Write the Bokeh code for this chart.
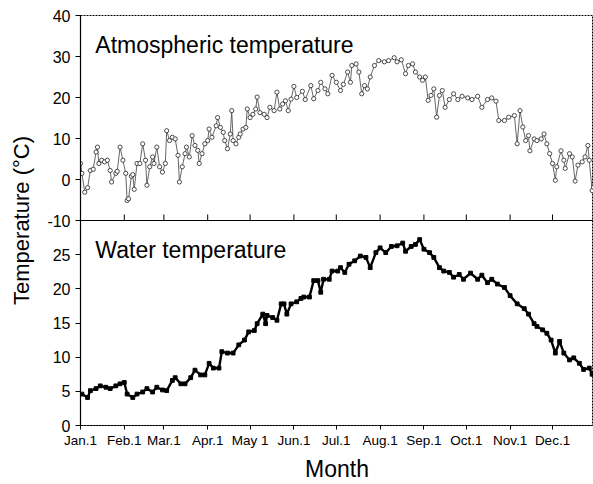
import math
from bokeh.plotting import figure
from bokeh.models import FixedTicker, Label, Range1d, LinearAxis, Span
from bokeh.embed import file_html
from bokeh.resources import INLINE
from bokeh.core.properties import value

# ---------------- data ----------------
month_days = [0, 31, 59, 90, 120, 151, 181, 212, 243, 273, 304, 334]
month_labels = ["Jan.1", "Feb.1", "Mar.1", "Apr.1", "May 1", "Jun.1",
                "Jul.1", "Aug.1", "Sep.1", "Oct.1", "Nov.1", "Dec.1"]

atm_ticks = [-10, 0, 10, 20, 30, 40]
water_ticks = [0, 5, 10, 15, 20, 25]

atm_day = [0, 1, 3, 5, 7, 9, 11, 12, 13, 15, 17, 19, 21, 22, 25, 26, 28, 30, 32, 33,
           34, 36, 37, 38, 40, 42, 44, 46, 47, 49, 51, 52, 54, 56, 58, 60, 61, 63, 65, 67,
           69, 70, 72, 74, 75, 77, 79, 81, 83, 84, 86, 88, 90, 91, 93, 96, 97, 99, 101, 102,
           104, 106, 107, 108, 110, 112, 113, 115, 117, 118, 120, 122, 124, 125, 127, 130, 132, 134, 137, 139,
           141, 143, 145, 147, 149, 151, 153, 157, 159, 163, 165, 168, 170, 173, 175, 178, 181, 184, 186, 189,
           191, 192, 195, 197, 199, 201, 203, 205, 208, 211, 215, 218, 222, 224, 227, 230, 232, 235, 237, 240,
           242, 244, 246, 248, 250, 252, 254, 256, 258, 261, 264, 267, 270, 274, 277, 281, 284, 288, 291, 294,
           296, 300, 303, 307, 309, 311, 313, 315, 317, 318, 321, 323, 326, 328, 330, 332, 334, 336, 337, 340,
           342, 343, 346, 348, 350, 352, 355, 357, 359, 360, 362, 363]
atm_temp = [3.9, 1.5, -3.1, -2.0, 2.2, 2.5, 6.7, 7.9, 3.9, 4.7, 4.3, 4.7, 2.2, -0.6, 1.5, 2.0, 7.9, 4.7, 1.5, -5.1,
            -4.7, 0.8, 1.2, -2.4, 3.9, 3.9, 8.7, 4.7, -1.4, 3.1, 5.5, 3.9, 7.9, 3.1, 1.8, 3.9, 11.9, 9.5, 10.3, 9.9,
            5.9, -0.6, 3.1, 6.3, 7.9, 5.5, 10.7, 8.3, 7.1, 3.9, 6.3, 8.7, 9.5, 12.3, 10.3, 13.1, 15.1, 12.7, 11.5, 9.5,
            7.5, 11.1, 16.8, 9.5, 8.7, 10.3, 11.1, 12.3, 12.7, 17.2, 15.1, 15.9, 17.2, 20.1, 16.3, 15.9, 15.1, 17.6, 16.8, 21.3,
            17.2, 18.4, 19.2, 16.8, 19.6, 22.7, 20.0, 21.5, 19.5, 22.9, 19.7, 21.7, 23.7, 22.1, 20.9, 25.4, 23.7, 21.7, 23.2, 26.2,
            23.7, 27.8, 28.2, 26.2, 20.9, 22.9, 22.1, 25.0, 27.8, 29.0, 28.7, 29.0, 29.7, 28.7, 29.2, 25.8, 27.8, 28.2, 26.2, 25.0,
            24.2, 25.0, 19.3, 20.5, 22.1, 15.2, 20.5, 21.7, 17.6, 19.5, 20.9, 19.5, 20.3, 19.9, 19.5, 20.3, 17.6, 19.5, 19.9, 19.1,
            14.4, 14.4, 15.2, 15.6, 8.7, 16.8, 12.8, 9.5, 10.7, 7.0, 9.9, 9.5, 9.9, 11.1, 8.7, 6.3, 3.9, -0.2, 3.1, 7.0,
            4.7, 2.7, 6.3, 5.5, -0.4, 3.5, 4.3, 5.5, 8.3, 4.7, -2.7, -1.9]

water_day = [1, 5, 7, 11, 14, 18, 21, 25, 28, 31, 33, 37, 40, 44, 47, 51, 54, 58, 61, 65,
             67, 71, 74, 78, 81, 85, 88, 91, 94, 98, 100, 104, 108, 112, 116, 119, 123, 125, 129, 131,
             132, 136, 139, 142, 144, 146, 149, 153, 156, 158, 162, 165, 168, 170, 172, 176, 178, 182, 184, 187,
             190, 194, 198, 202, 205, 209, 212, 216, 220, 224, 228, 230, 234, 237, 240, 243, 247, 250, 254, 257,
             261, 264, 268, 271, 276, 281, 284, 288, 291, 295, 300, 304, 309, 314, 317, 321, 323, 327, 330, 333,
             336, 339, 342, 346, 349, 353, 356, 360, 362]
water_temp = [4.6, 4.1, 5.1, 5.4, 5.8, 5.6, 5.4, 5.8, 6.1, 6.3, 4.6, 4.1, 4.6, 4.9, 5.4, 4.9, 5.6, 5.2, 5.1, 6.6,
              7.0, 6.1, 6.1, 7.0, 8.1, 7.4, 7.4, 9.1, 8.4, 8.4, 10.8, 10.6, 10.6, 11.8, 12.5, 13.7, 13.9, 14.9, 16.3, 14.9,
              16.1, 15.8, 15.4, 17.8, 17.8, 16.3, 17.8, 18.1, 18.6, 18.8, 18.8, 21.2, 21.2, 19.5, 21.4, 21.4, 22.6, 22.6, 23.1, 22.4,
              23.6, 24.1, 24.8, 24.6, 23.1, 25.3, 26.0, 25.3, 26.2, 26.3, 26.7, 25.5, 26.2, 26.5, 27.2, 25.8, 25.3, 24.6, 23.1, 22.6,
              22.4, 21.7, 22.1, 21.4, 22.3, 21.4, 22.0, 20.9, 21.4, 20.7, 20.2, 19.0, 17.8, 17.1, 16.3, 14.9, 14.5, 14.0, 13.5, 12.5,
              10.6, 12.3, 10.6, 9.6, 9.9, 9.1, 8.2, 8.4, 7.5]

# ---------------- layout constants ----------------
FONT = "Liberation Sans"
ATM_LO, ATM_HI = -60, 40      # top panel occupies the upper half of the frame
WAT_LO, WAT_HI = 0, 60        # bottom panel occupies the lower half
BOUNDARY = 30                 # water-range value at the panel boundary


def atm_to_water(v):
    return (v - ATM_LO) * (WAT_HI - WAT_LO) // (ATM_HI - ATM_LO) + WAT_LO


p = figure(width=593, height=484, output_backend="svg", toolbar_location=None,
           x_range=Range1d(0, 363), y_range=Range1d(WAT_LO, WAT_HI),
           min_border_left=80, min_border_right=0, min_border_top=15, min_border_bottom=55,
           x_axis_location=None, y_axis_location=None)
p.extra_y_ranges = {"atm": Range1d(ATM_LO, ATM_HI)}
p.grid.visible = False
p.background_fill_color = "white"
p.border_fill_color = "white"
p.outline_line_color = "black"
p.outline_line_width = 1
p.outline_line_dash = "2 1"

# left axis carrying both panels' ticks
left_ticks = list(water_ticks) + [atm_to_water(v) for v in atm_ticks]
overrides = {atm_to_water(v): str(v) for v in atm_ticks}
yax = LinearAxis(ticker=FixedTicker(ticks=left_ticks, minor_ticks=[]),
                 major_label_overrides=overrides,
                 axis_label="Temperature (°C)")
yax.axis_label_text_font = FONT
yax.axis_label_text_font_size = "22px"
yax.axis_label_text_font_style = "normal"
yax.axis_label_text_color = "black"
yax.axis_label_standoff = 10
yax.major_label_text_font = FONT
yax.major_label_text_font_size = "16px"
yax.major_label_text_color = "black"
yax.major_label_standoff = 5
yax.major_tick_out = 5
yax.major_tick_in = 0
yax.axis_line_color = "black"
yax.axis_line_width = 1.2
yax.major_tick_line_color = "black"
p.add_layout(yax, "left")

xax = LinearAxis(ticker=FixedTicker(ticks=month_days, minor_ticks=[]),
                 major_label_overrides={d: l for d, l in zip(month_days, month_labels)},
                 axis_label="Month")
xax.axis_label_text_font = FONT
xax.axis_label_text_font_size = "23px"
xax.axis_label_text_font_style = "normal"
xax.axis_label_text_color = "black"
xax.axis_label_standoff = 5
xax.major_label_text_font = FONT
xax.major_label_text_font_size = "13.5px"
xax.major_label_text_color = "black"
xax.major_label_standoff = 3
xax.major_tick_out = 4
xax.major_tick_in = 0
xax.axis_line_color = "black"
xax.axis_line_dash = "2 1"
xax.major_tick_line_color = "black"
p.add_layout(xax, "below")

# boundary between the panels with inward month ticks
p.add_layout(Span(location=BOUNDARY, dimension="width", line_color="black", line_width=1))
p.ray(x=month_days, y=[BOUNDARY] * len(month_days), length=6, length_units="screen",
      angle=math.pi / 2, line_color="black", line_width=1)

# atmospheric temperature
p.line(atm_day, atm_temp, y_range_name="atm", line_color="#555555", line_width=0.9)
p.scatter(atm_day, atm_temp, y_range_name="atm", marker="circle", size=4.2,
          fill_color="white", line_color="#222222", line_width=0.8)

# water temperature
p.line(water_day, water_temp, line_color="black", line_width=2.4)
p.scatter(water_day, water_temp, marker="square", size=3.8,
          fill_color="black", line_color="black")

p.add_layout(Label(x=10.5, y=32.7, y_range_name="atm", text="Atmospheric temperature",
                   text_font=FONT, text_font_size="23px", text_baseline="alphabetic",
                   text_color="black"))
p.add_layout(Label(x=10.5, y=25.7, text="Water temperature",
                   text_font=FONT, text_font_size="23px", text_baseline="alphabetic",
                   text_color="black"))

open("out.html", "w").write(file_html(p, INLINE))
